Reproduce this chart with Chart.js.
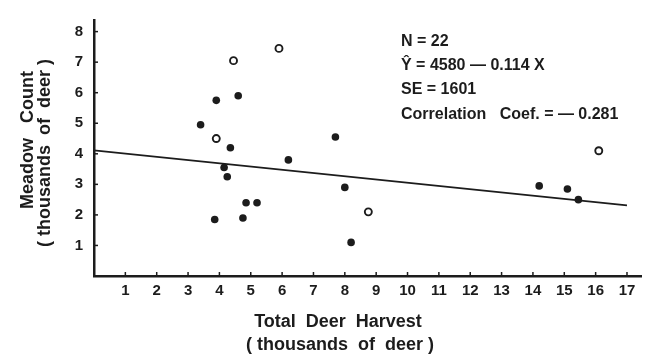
<!DOCTYPE html>
<html>
<head>
<meta charset="utf-8">
<script src="https://cdn.jsdelivr.net/npm/chart.js@4.4.1/dist/chart.umd.min.js"></script>
<style>
  html, body { margin: 0; background: #fff; }
  #caixa { width: 647px; height: 356px; }
</style>
</head>
<body>
<div id="caixa"><canvas id="grafico"></canvas></div>
<script>
// Dados (milhares de cervos)
const abateCheio = [3.4, 3.9, 4.6, 4.35, 4.15, 4.25, 6.2, 4.85, 5.2, 3.85, 4.75, 7.7, 8.0, 8.2, 14.2, 15.1, 15.45];
const contagemCheio = [4.95, 5.75, 5.9, 4.2, 3.55, 3.25, 3.8, 2.4, 2.4, 1.85, 1.9, 4.55, 2.9, 1.1, 2.95, 2.85, 2.5];
const abateVazio = [4.45, 5.9, 3.9, 8.75, 16.1];
const contagemVazio = [7.05, 7.45, 4.5, 2.1, 4.1];
const retaX = [0, 17];
const retaY = [4.11, 2.31];

const marcasX = [1, 2, 3, 4, 5, 6, 7, 8, 9, 10, 11, 12, 13, 14, 15, 16, 17];
const marcasY = [1, 2, 3, 4, 5, 6, 7, 8];

const tituloX = ['Total  Deer  Harvest', '( thousands  of  deer )'];
const tituloY = ['Meadow   Count', '( thousands  of  deer )'];
const estatisticas = ['N = 22', '\u0176 = 4580 \u2014 0.114 X', 'SE = 1601', 'Correlation   Coef. = \u2014 0.281'];

const fonte = "'Liberation Sans', Arial, sans-serif";
const tinta = '#1c1c1c';

const pares = (xs, ys) => xs.map((x, i) => ({ x, y: ys[i] }));

// marcas curtas para dentro da área do gráfico
const marcasInternas = {
  id: 'marcasInternas',
  afterDraw(chart) {
    const { ctx, scales: { x, y }, chartArea } = chart;
    ctx.save();
    ctx.strokeStyle = tinta;
    ctx.lineWidth = 1.5;
    marcasX.forEach(v => {
      const px = x.getPixelForValue(v);
      ctx.beginPath();
      ctx.moveTo(px, chartArea.bottom);
      ctx.lineTo(px, chartArea.bottom - 4);
      ctx.stroke();
    });
    marcasY.forEach(v => {
      const py = y.getPixelForValue(v);
      ctx.beginPath();
      ctx.moveTo(chartArea.left, py);
      ctx.lineTo(chartArea.left + 4, py);
      ctx.stroke();
    });
    ctx.restore();
  }
};

const textos = {
  id: 'textos',
  afterDraw(chart) {
    const c = chart.ctx;
    c.save();
    c.fillStyle = tinta;
    c.textBaseline = 'alphabetic';

    c.font = `bold 18px ${fonte}`;
    c.textAlign = 'center';
    c.fillText(tituloX[0], 338, 327);
    c.fillText(tituloX[1], 340, 350);

    c.save();
    c.translate(33, 140);
    c.rotate(-Math.PI / 2);
    c.fillText(tituloY[0], 0, 0);
    c.restore();
    c.save();
    c.translate(50, 153);
    c.rotate(-Math.PI / 2);
    c.fillText(tituloY[1], 0, 0);
    c.restore();

    c.font = `bold 16px ${fonte}`;
    c.textAlign = 'left';
    estatisticas.forEach((t, i) => c.fillText(t, 401, 46 + i * 24.2));
    c.restore();
  }
};

new Chart(document.getElementById('grafico'), {
  type: 'scatter',
  data: {
    datasets: [
      {
        label: 'cheio',
        data: pares(abateCheio, contagemCheio),
        backgroundColor: tinta,
        borderColor: tinta,
        pointRadius: 3.8,
        borderWidth: 0
      },
      {
        label: 'vazio',
        data: pares(abateVazio, contagemVazio),
        backgroundColor: '#fff',
        borderColor: tinta,
        pointRadius: 3.5,
        borderWidth: 1.9
      },
      {
        type: 'line',
        label: 'regressao',
        data: pares(retaX, retaY),
        borderColor: tinta,
        borderWidth: 1.8,
        pointRadius: 0,
        fill: false
      }
    ]
  },
  options: {
    responsive: true,
    maintainAspectRatio: false,
    animation: false,
    layout: { padding: { top: 13, right: 5, left: 0, bottom: 0 } },
    plugins: { legend: { display: false }, tooltip: { enabled: false } },
    scales: {
      x: {
        type: 'linear',
        min: 0,
        max: 17.45,
        afterBuildTicks: s => { s.ticks = marcasX.map(v => ({ value: v })); },
        afterFit: s => { s.height = 80; },
        grid: { display: false, drawTicks: false },
        border: { display: true, color: tinta, width: 2.5 },
        ticks: { color: tinta, font: { family: fonte, size: 15, weight: 'bold' }, padding: 6, maxRotation: 0, autoSkip: false }
      },
      y: {
        type: 'linear',
        min: 0,
        max: 8.38,
        afterBuildTicks: s => { s.ticks = marcasY.map(v => ({ value: v })); },
        afterFit: s => { s.width = 94; },
        grid: { display: false, drawTicks: false },
        border: { display: true, color: tinta, width: 2.5 },
        ticks: { color: tinta, font: { family: fonte, size: 15, weight: 'bold' }, padding: 11, autoSkip: false }
      }
    }
  },
  plugins: [marcasInternas, textos]
});
</script>
</body>
</html>
